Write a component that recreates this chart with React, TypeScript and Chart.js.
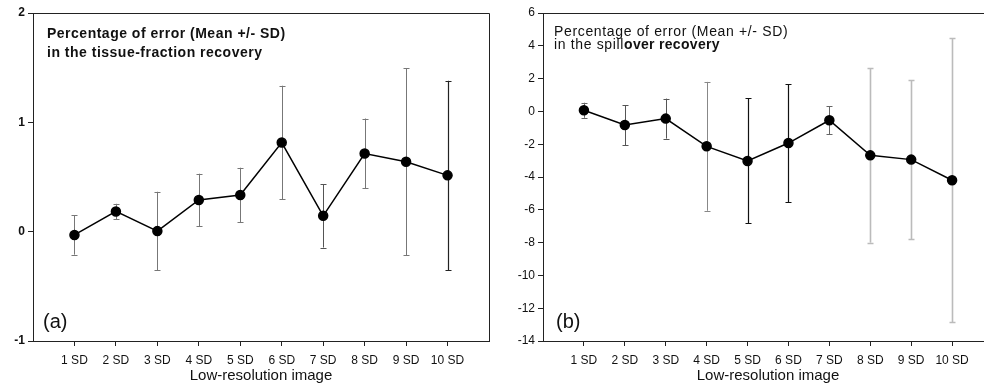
import React, { useEffect, useRef } from 'react';
import { Chart, registerables } from 'chart.js';

Chart.register(...registerables);

const FONT = "'Liberation Sans', Arial, sans-serif";

const categories = ['1 SD', '2 SD', '3 SD', '4 SD', '5 SD', '6 SD', '7 SD', '8 SD', '9 SD', '10 SD'];

// (a) tissue-fraction recovery
const tissueMean = [-0.03, 0.185, 0.005, 0.29, 0.335, 0.815, 0.145, 0.715, 0.64, 0.515];
const tissueSD = [0.18, 0.07, 0.36, 0.24, 0.25, 0.52, 0.29, 0.32, 0.855, 0.865];
const tissueTicks = [-1, 0, 1, 2];

// (b) spillover recovery
const spillMean = [0.07, -0.83, -0.44, -2.13, -3.02, -1.93, -0.54, -2.68, -2.94, -4.2];
const spillSD = [0.46, 1.22, 1.22, 3.93, 3.81, 3.6, 0.86, 5.32, 4.85, 8.65];
const spillTicks = [-14, -12, -10, -8, -6, -4, -2, 0, 2, 4, 6];

// error bar styles (not data)
const tissueErrColors = ['#777', '#777', '#777', '#777', '#777', '#777', '#555', '#777', '#777', '#222'];
const tissueErrWidths = [1, 1, 1, 1, 1, 1, 1, 1, 1, 1.2];
const spillErrColors = ['#666', '#555', '#555', '#888', '#111', '#111', '#666', '#bbb', '#bbb', '#bbb'];
const spillErrWidths = [1, 1, 1, 1, 1.2, 1.2, 1, 1.6, 1.6, 1.6];

type Opts = {
  means: number[];
  sds: number[];
  ticks: number[];
  errColors: string[];
  errWidths: number[];
  yWidth: number;
  padRight: number;
  yBold: boolean;
  rightBorder: boolean;
  drawText: (ctx: CanvasRenderingContext2D, area: any) => void;
};

function makeChart(canvas: HTMLCanvasElement, o: Opts) {
  const yMin = o.ticks[0];
  const yMax = o.ticks[o.ticks.length - 1];
  const step = o.ticks[1] - o.ticks[0];

  const errorBars = {
    id: 'errorBars',
    beforeDatasetsDraw(chart: any) {
      const ctx = chart.ctx;
      const xs = chart.scales.x;
      const ys = chart.scales.y;
      ctx.save();
      o.means.forEach((m, i) => {
        const x = Math.round(xs.getPixelForValue(i + 1)) + 0.5;
        const yt = ys.getPixelForValue(m + o.sds[i]);
        const yb = ys.getPixelForValue(m - o.sds[i]);
        ctx.strokeStyle = o.errColors[i];
        ctx.lineWidth = o.errWidths[i];
        ctx.beginPath();
        ctx.moveTo(x, yt);
        ctx.lineTo(x, yb);
        ctx.moveTo(x - 3, Math.round(yt) + 0.5);
        ctx.lineTo(x + 3, Math.round(yt) + 0.5);
        ctx.moveTo(x - 3, Math.round(yb) + 0.5);
        ctx.lineTo(x + 3, Math.round(yb) + 0.5);
        ctx.stroke();
      });
      ctx.restore();
    },
  };

  const frame = {
    id: 'frame',
    afterDraw(chart: any) {
      const ctx = chart.ctx;
      const a = chart.chartArea;
      ctx.save();
      ctx.strokeStyle = '#222';
      ctx.lineWidth = 1;
      const t = Math.round(a.top) + 0.5;
      const l = Math.round(a.left) + 0.5;
      const r = Math.round(a.right) + 0.5;
      ctx.beginPath();
      ctx.moveTo(l, t);
      ctx.lineTo(o.rightBorder ? r : chart.width, t);
      if (o.rightBorder) {
        ctx.lineTo(r, Math.round(a.bottom) + 0.5);
      }
      ctx.stroke();
      o.drawText(ctx, a);
      ctx.restore();
    },
  };

  return new Chart(canvas, {
    type: 'line',
    data: {
      datasets: [
        {
          data: o.means.map((m, i) => ({ x: i + 1, y: m })),
          borderColor: '#000',
          backgroundColor: '#000',
          borderWidth: 1.5,
          pointRadius: 4.5,
          pointBackgroundColor: '#000',
          pointBorderColor: '#000',
          tension: 0,
        },
      ],
    },
    options: {
      responsive: false,
      animation: false,
      devicePixelRatio: 1,
      layout: { padding: { top: 13, right: o.padRight, left: 0, bottom: 0 } },
      plugins: { legend: { display: false }, tooltip: { enabled: false } },
      scales: {
        x: {
          type: 'linear',
          min: 0,
          max: 11,
          afterBuildTicks: (scale: any) => {
            scale.ticks = categories.map((_, i) => ({ value: i + 1 }));
          },
          afterFit: (scale: any) => {
            scale.height = 46;
          },
          grid: { display: true, drawOnChartArea: false, drawTicks: true, tickLength: 5, color: '#222' },
          border: { display: true, color: '#222', width: 1 },
          ticks: {
            autoSkip: false,
            maxRotation: 0,
            padding: 7,
            color: '#111',
            font: { family: FONT, size: 12 },
            callback: (v: any) => categories[Number(v) - 1] ?? '',
          },
          title: {
            display: true,
            text: 'Low-resolution image',
            color: '#111',
            font: { family: FONT, size: 15 },
            padding: { top: 0, bottom: 2 },
          },
        },
        y: {
          type: 'linear',
          min: yMin,
          max: yMax,
          afterBuildTicks: (scale: any) => {
            scale.ticks = o.ticks.map((v) => ({ value: v }));
          },
          afterFit: (scale: any) => {
            scale.width = o.yWidth;
          },
          grid: { display: true, drawOnChartArea: false, drawTicks: true, tickLength: 5, color: '#222' },
          border: { display: true, color: '#222', width: 1 },
          ticks: {
            stepSize: step,
            padding: 3,
            color: '#111',
            font: { family: FONT, size: 12, weight: o.yBold ? 'bold' : 'normal' },
          },
        },
      },
    } as any,
    plugins: [errorBars, frame],
  });
}

export default function App() {
  const leftRef = useRef<HTMLCanvasElement>(null);
  const rightRef = useRef<HTMLCanvasElement>(null);

  useEffect(() => {
    const left = makeChart(leftRef.current!, {
      means: tissueMean,
      sds: tissueSD,
      ticks: tissueTicks,
      errColors: tissueErrColors,
      errWidths: tissueErrWidths,
      yWidth: 33,
      padRight: 3,
      yBold: true,
      rightBorder: true,
      drawText: (ctx) => {
        ctx.fillStyle = '#111';
        ctx.textAlign = 'left';
        ctx.textBaseline = 'alphabetic';
        (ctx as any).letterSpacing = '0.5px';
        ctx.font = `bold 14px ${FONT}`;
        ctx.fillText('Percentage of error (Mean +/- SD)', 47, 38);
        ctx.fillText('in the tissue-fraction recovery', 47, 57);
        (ctx as any).letterSpacing = '0px';
        ctx.font = `20px ${FONT}`;
        ctx.fillText('(a)', 43, 328);
      },
    });
    const right = makeChart(rightRef.current!, {
      means: spillMean,
      sds: spillSD,
      ticks: spillTicks,
      errColors: spillErrColors,
      errWidths: spillErrWidths,
      yWidth: 48,
      padRight: 12,
      yBold: false,
      rightBorder: false,
      drawText: (ctx) => {
        ctx.fillStyle = '#111';
        ctx.textAlign = 'left';
        ctx.textBaseline = 'alphabetic';
        (ctx as any).letterSpacing = '0.65px';
        ctx.font = `14px ${FONT}`;
        ctx.fillText('Percentage of error (Mean +/- SD)', 59, 36);
        const part1 = 'in the spill';
        ctx.fillText(part1, 59, 49);
        const w = ctx.measureText(part1).width;
        (ctx as any).letterSpacing = '0.3px';
        ctx.font = `bold 14px ${FONT}`;
        ctx.fillText('over recovery', 59 + w, 49);
        (ctx as any).letterSpacing = '0px';
        ctx.font = `20px ${FONT}`;
        ctx.fillText('(b)', 61, 328);
      },
    });
    return () => {
      left.destroy();
      right.destroy();
    };
  }, []);

  return (
    <div
      style={{
        position: 'fixed',
        left: 0,
        top: 0,
        width: 984,
        height: 387,
        overflow: 'hidden',
        background: '#fff',
      }}
    >
      <canvas ref={leftRef} width={495} height={387} style={{ position: 'absolute', left: 0, top: 0, display: 'block' }} />
      <canvas ref={rightRef} width={510} height={387} style={{ position: 'absolute', left: 495, top: 0, display: 'block' }} />
    </div>
  );
}
